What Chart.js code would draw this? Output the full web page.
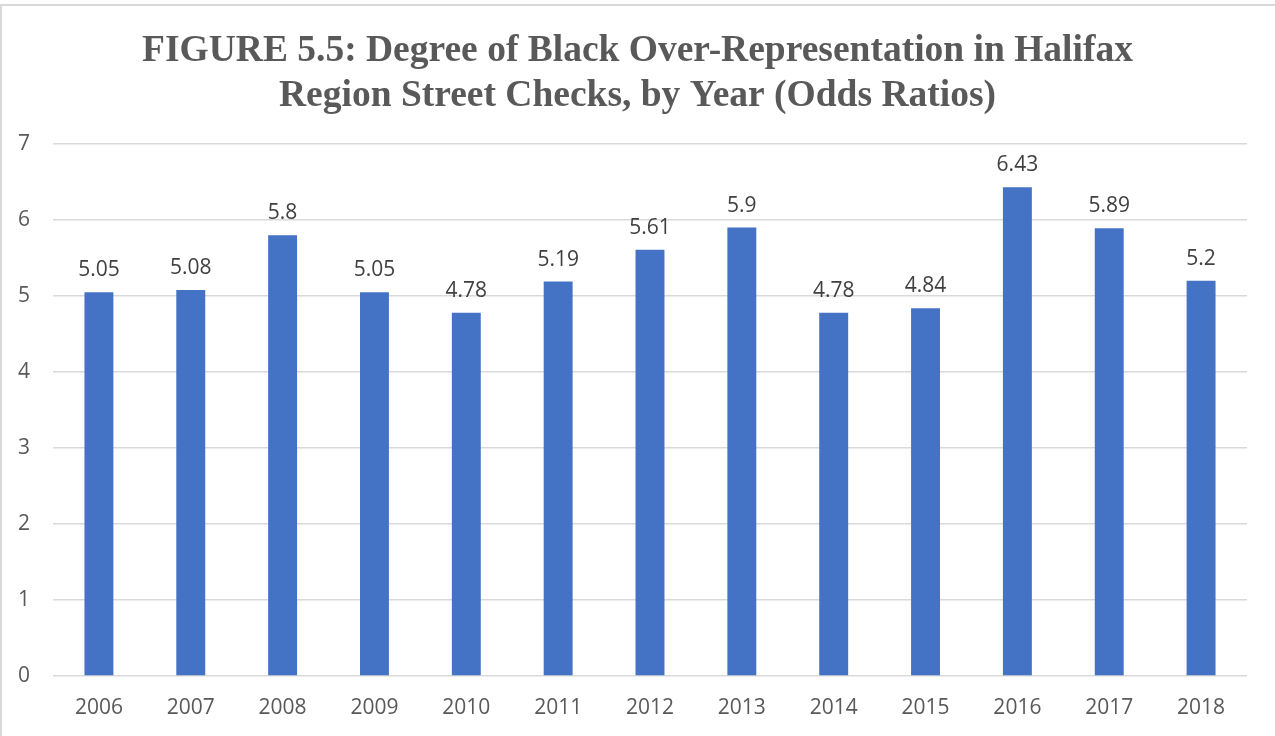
<!DOCTYPE html>
<html>
<head>
<meta charset="utf-8">
<script src="https://cdn.jsdelivr.net/npm/chart.js@4/dist/chart.umd.min.js"></script>
<style>
  html, body { margin: 0; padding: 0; background: #fff; overflow: hidden; }
  #wrap { position: relative; width: 1275px; height: 736px; }
  #frame { position: absolute; left: 0; top: 4px; width: 1300px; height: 800px; border: 2px solid #d9d9d9; box-sizing: border-box; }
  canvas { position: absolute; left: 0; top: 0; }
</style>
</head>
<body>
<div id="wrap">
  <div id="frame"></div>
  <canvas id="c" width="1275" height="736"></canvas>
</div>
<script>
const titleLines = ["FIGURE 5.5: Degree of Black Over-Representation in Halifax", "Region Street Checks, by Year (Odds Ratios)"];
const years = ["2006", "2007", "2008", "2009", "2010", "2011", "2012", "2013", "2014", "2015", "2016", "2017", "2018"];
const oddsRatios = [5.05, 5.08, 5.8, 5.05, 4.78, 5.19, 5.61, 5.9, 4.78, 4.84, 6.43, 5.89, 5.2];
const yTicks = [0, 1, 2, 3, 4, 5, 6, 7];

const valueLabels = {
  id: 'valueLabels',
  afterDatasetsDraw(chart) {
    const ctx = chart.ctx;
    const meta = chart.getDatasetMeta(0);
    ctx.save();
    ctx.font = '21px "Open Sans"';
    ctx.fillStyle = '#404040';
    ctx.textAlign = 'center';
    ctx.textBaseline = 'alphabetic';
    meta.data.forEach((bar, i) => {
      ctx.fillText(String(oddsRatios[i]), bar.x, bar.y - 16);
    });
    ctx.restore();
  }
};

new Chart(document.getElementById('c'), {
  type: 'bar',
  data: {
    labels: years,
    datasets: [{
      data: oddsRatios,
      backgroundColor: '#4472C4',
      borderWidth: 0,
      categoryPercentage: 1,
      barPercentage: 0.315
    }]
  },
  options: {
    responsive: false,
    animation: false,
    layout: { padding: { left: 0, right: 0, top: 0, bottom: 0 } },
    plugins: {
      legend: { display: false },
      tooltip: { enabled: false },
      title: {
        display: true,
        text: titleLines,
        color: '#595959',
        font: { family: '"Liberation Serif", "Times New Roman", serif', size: 37.5, weight: 'bold', lineHeight: 1.2 },
        padding: { top: 29, bottom: 25 }
      }
    },
    scales: {
      x: {
        grid: { display: false, drawTicks: false },
        border: { display: false },
        ticks: { color: '#595959', font: { family: '"Open Sans"', size: 21 }, padding: 19, maxRotation: 0 },
        afterFit(scale) { scale.height = 60; }
      },
      y: {
        min: 0,
        max: 7,
        afterBuildTicks(scale) { scale.ticks = yTicks.map(v => ({ value: v })); },
        grid: { color: '#d9d9d9', lineWidth: 1.5, drawTicks: false },
        border: { display: false },
        ticks: { color: '#595959', font: { family: '"Open Sans"', size: 21 }, padding: 23 },
        afterFit(scale) { scale.width = 53; }
      },
      yRight: {
        position: 'right',
        display: true,
        min: 0,
        max: 7,
        grid: { display: false, drawTicks: false },
        border: { display: false },
        ticks: { display: false },
        afterFit(scale) { scale.width = 28; }
      }
    }
  },
  plugins: [valueLabels]
});
</script>
</body>
</html>
